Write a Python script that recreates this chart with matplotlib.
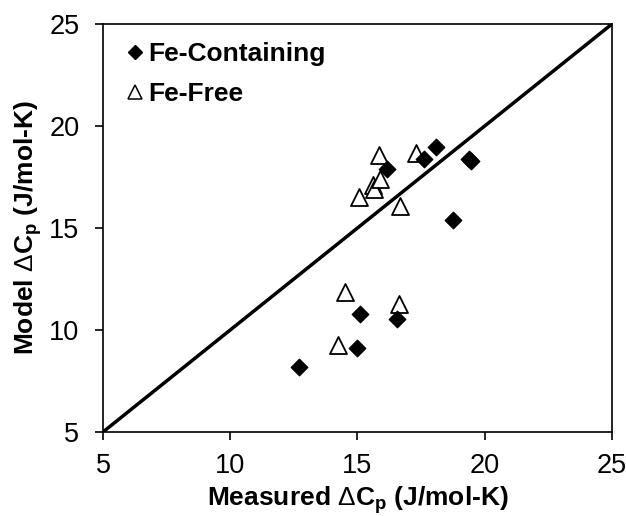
import matplotlib
matplotlib.use("Agg")
import matplotlib.pyplot as plt
from matplotlib.lines import Line2D

plt.rcParams['font.family'] = ['Liberation Sans', 'DejaVu Sans']
plt.rcParams['mathtext.fontset'] = 'custom'
plt.rcParams['mathtext.rm'] = 'Liberation Sans'
plt.rcParams['mathtext.bf'] = 'Liberation Sans:bold'

fe_x = [12.7, 15.0, 15.1, 16.55, 16.15, 17.6, 18.08, 19.4, 19.45, 18.75]
fe_y = [8.2, 9.1, 10.8, 10.55, 17.9, 18.4, 18.95, 18.4, 18.3, 15.4]

free_x = [14.23, 14.5, 16.62, 15.06, 15.6, 15.65, 15.9, 15.85, 17.3, 16.67]
free_y = [9.25, 11.85, 11.25, 16.5, 17.1, 16.9, 17.4, 18.6, 18.7, 16.1]

line_vals = [5, 25]
ticks = [5, 10, 15, 20, 25]

fig = plt.figure(figsize=(6.26, 5.16), dpi=100)
ax = fig.add_axes([0.1645, 0.1628, 0.8131, 0.7907])

ax.plot(line_vals, line_vals, color='black', lw=2.5, zorder=1)
ax.scatter(fe_x, fe_y, marker='D', s=70, color='black', zorder=3)
ax.scatter(free_x, free_y, marker='^', s=150, facecolor='white', edgecolor='black', linewidths=1.3, zorder=2)

ax.set_xlim(5, 25)
ax.set_ylim(5, 25)
ax.set_xticks(ticks)
ax.set_yticks(ticks)
ax.tick_params(direction='out', length=6, width=1.2, labelsize=19.5)
ax.tick_params(axis='x', pad=9)
ax.tick_params(axis='y', pad=11)
for s in ax.spines.values():
    s.set_linewidth(1.2)

ax.set_xlabel('Measured $\\mathrm{Δ}$C$_\\mathregular{p}$ (J/mol-K)', fontsize=19, fontweight='bold', labelpad=4)
ax.set_ylabel('Model $\\mathrm{Δ}$C$_\\mathregular{p}$ (J/mol-K)', fontsize=19, fontweight='bold', labelpad=4)

handles = [Line2D([], [], marker='D', color='black', ls='none', markersize=7),
           Line2D([], [], marker='^', markerfacecolor='white', markeredgecolor='black', ls='none', markersize=10, markeredgewidth=1.1)]
ax.legend(handles, ['Fe-Containing', 'Fe-Free'], loc='upper left', frameon=False,
          prop={'weight': 'bold', 'size': 19}, handlelength=0.6, handletextpad=0.2,
          borderaxespad=0.3, labelspacing=0.6, bbox_to_anchor=(0.012, 1.0))

fig.savefig('out.png', dpi=100)
